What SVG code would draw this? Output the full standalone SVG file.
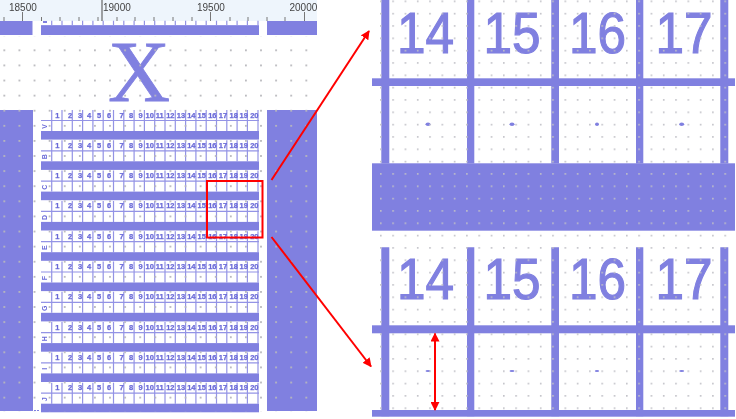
<svg xmlns="http://www.w3.org/2000/svg" width="736" height="419" viewBox="0 0 736 419">
<style>
.fill{fill:#8080e0}
.tick{stroke:#777;stroke-width:1}
.rl{font:10px "Liberation Sans",Arial,sans-serif;fill:#444}
.n{font:bold 7.5px "Liberation Sans",Arial,sans-serif;fill:#6a6ad8;stroke:#6a6ad8;stroke-width:.25;text-anchor:middle}
.gl{stroke:#8080e0;stroke-width:1.2;opacity:.85;fill:none}
.big{font:57px "Liberation Sans",Arial,sans-serif;fill:#8080e0;stroke:#8080e0;stroke-width:1.2}
.lab{font:bold 7px "Liberation Sans",Arial,sans-serif;fill:#6a6ad8;text-anchor:middle}
.red{stroke:#f00;stroke-width:2;fill:none}
</style>
<defs>
<filter id="soft" x="0" y="0" width="100%" height="100%" filterUnits="objectBoundingBox"><feGaussianBlur stdDeviation="0.3"/></filter>
<pattern id="dotsL" patternUnits="userSpaceOnUse" x="3.4" y="4.1" width="15.1" height="15.1"><rect x="0" y="0" width="1.8" height="1.8" fill="#b8b8bc"/></pattern>
<pattern id="dotsR" patternUnits="userSpaceOnUse" x="380" y="0.5" width="12.3" height="12.33"><rect x="0" y="0" width="1.6" height="1.6" fill="#c0c0c6"/></pattern>
<marker id="ah" viewBox="0 0 10 10" refX="9" refY="5" markerWidth="4.500" markerHeight="4.500" orient="auto-start-reverse" markerUnits="strokeWidth"><path d="M0 0L10 5L0 10Z" fill="#f00"/></marker>
<g id="row">
<rect class="fill" x="41" y="131" width="218" height="8.600"/>
<path class="gl" d="M41 120.500H259M51.700 110V131M62 110V131M72.300 110V131M82.600 110V131M92.900 110V131M103.200 110V131M113.500 110V131M123.800 110V131M134.100 110V131M144.400 110V131M154.700 110V131M165 110V131M175.300 110V131M185.600 110V131M195.900 110V131M206.200 110V131M216.500 110V131M226.800 110V131M237.100 110V131M247.400 110V131M258 110V131"/>
<text class="n" y="117.500"><tspan x="57.300">1</tspan><tspan x="70">2</tspan><tspan x="80">3</tspan><tspan x="89">4</tspan><tspan x="99">5</tspan><tspan x="109">6</tspan><tspan x="121.700">7</tspan><tspan x="131">8</tspan><tspan x="140.700">9</tspan><tspan x="149.700">10</tspan><tspan x="159.700">11</tspan><tspan x="170.300">12</tspan><tspan x="181">13</tspan><tspan x="191.300">14</tspan><tspan x="201.700">15</tspan><tspan x="212.300">16</tspan><tspan x="223">17</tspan><tspan x="233.700">18</tspan><tspan x="243.700">19</tspan><tspan x="254.300">20</tspan></text>
</g>
</defs>

<g id="left-panel" filter="url(#soft)">
<rect x="0" y="0" width="317" height="21" fill="#eef5fc"/>
<path class="tick" d="M4 17V21M22.500 12V21M41.500 17V21M60 17V21M79 17V21M98 17V21M117 17V21M135 17V21M154 17V21M173 17V21M192 17V21M210.500 12V21M230 17V21M248 17V21M267 17V21M285 17V21M304.500 12V21"/>
<path d="M102 0V21" stroke="#666" stroke-width="1.200"/>
<text class="rl" x="9" y="10.500">18500</text>
<text class="rl" x="103" y="10.500">19000</text>
<text class="rl" x="197" y="10.500">19500</text>
<text class="rl" x="289.500" y="10.500">20000</text>
<rect class="fill" x="0" y="21" width="32.500" height="14"/>
<rect class="fill" x="267" y="21" width="50" height="14"/>
<rect class="fill" x="41" y="26" width="218" height="9"/>
<path class="gl" d="M41 25.700H259M51.700 20.700V26M62 20.700V26M72.300 20.700V26M82.600 20.700V26M92.900 20.700V26M103.200 20.700V26M113.500 20.700V26M123.800 20.700V26M134.100 20.700V26M144.400 20.700V26M154.700 20.700V26M165 20.700V26M175.300 20.700V26M185.600 20.700V26M195.900 20.700V26M206.200 20.700V26M216.500 20.700V26M226.800 20.700V26M237.100 20.700V26M247.400 20.700V26M258 20.700V26"/>
<rect class="fill" x="43" y="21" width="4" height="2"/>
<text x="139" y="101" font-family="Liberation Serif,Times New Roman,serif" font-size="86" fill="#8080e0" stroke="#8080e0" stroke-width="0.8" text-anchor="middle">X</text>
<rect class="fill" x="0" y="110" width="33" height="301"/>
<rect class="fill" x="267" y="110" width="50" height="301"/>
<path d="M34 410.500H40" stroke="#8080e0" stroke-width="1" stroke-dasharray="2 1"/>
<g id="row-V"><use href="#row"/><text class="lab" transform="translate(46.500 126.500) rotate(-90)">V</text></g>
<g id="row-B"><use href="#row" y="30.300"/><text class="lab" transform="translate(46.500 156.800) rotate(-90)">B</text></g>
<g id="row-C"><use href="#row" y="60.600"/><text class="lab" transform="translate(46.500 187.100) rotate(-90)">C</text></g>
<g id="row-D"><use href="#row" y="90.900"/><text class="lab" transform="translate(46.500 217.400) rotate(-90)">D</text></g>
<g id="row-E"><use href="#row" y="121.200"/><text class="lab" transform="translate(46.500 247.700) rotate(-90)">E</text></g>
<g id="row-F"><use href="#row" y="151.500"/><text class="lab" transform="translate(46.500 278) rotate(-90)">F</text></g>
<g id="row-G"><use href="#row" y="181.800"/><text class="lab" transform="translate(46.500 308.300) rotate(-90)">G</text></g>
<g id="row-H"><use href="#row" y="212.100"/><text class="lab" transform="translate(46.500 338.600) rotate(-90)">H</text></g>
<g id="row-I"><use href="#row" y="242.400"/><text class="lab" transform="translate(46.500 368.900) rotate(-90)">I</text></g>
<g id="row-J"><use href="#row" y="272.700"/><text class="lab" transform="translate(46.500 399.200) rotate(-90)">J</text></g>
<rect x="0" y="36" width="317" height="376" fill="url(#dotsL)"/>
</g>

<g id="zoom-top">
<path class="fill" d="M381.300 0h8v163.500h-8zM467 0h7.300v163.500h-7.300zM551.300 0h7.700v163.500h-7.700zM636 0h7.300v163.500h-7.300zM720.300 0h8v163.500h-8z"/>
<rect class="fill" x="372" y="78.300" width="363" height="7.700"/>
<rect class="fill" x="372" y="163.300" width="363" height="67.400"/>
<text class="big" transform="translate(397 52.500) scale(.9 1)">14</text>
<text class="big" transform="translate(483.400 52.500) scale(.9 1)">15</text>
<text class="big" transform="translate(569 52.500) scale(.9 1)">16</text>
<text class="big" transform="translate(655.400 52.500) scale(.9 1)">17</text>
<ellipse class="fill" cx="428" cy="124.300" rx="2.500" ry="1.700"/>
<ellipse class="fill" cx="512" cy="124.300" rx="2.500" ry="1.700"/>
<ellipse class="fill" cx="597" cy="124.300" rx="2" ry="1.700"/>
<ellipse class="fill" cx="681.700" cy="124.300" rx="2.500" ry="1.700"/>
</g>

<g id="zoom-bottom">
<path class="fill" d="M381.300 247.300h8v169h-8zM467 247.300h7.300v169h-7.300zM551.300 247.300h7.700v169h-7.700zM636 247.300h7.300v169h-7.300zM720.300 247.300h8v169h-8z"/>
<rect class="fill" x="372" y="325.300" width="363" height="8"/>
<rect class="fill" x="372" y="410" width="363" height="6.700"/>
<text class="big" transform="translate(397 299.300) scale(.9 1)">14</text>
<text class="big" transform="translate(483.400 299.300) scale(.9 1)">15</text>
<text class="big" transform="translate(569 299.300) scale(.9 1)">16</text>
<text class="big" transform="translate(655.400 299.300) scale(.9 1)">17</text>
<ellipse class="fill" cx="428" cy="371" rx="2.500" ry="1.100"/>
<ellipse class="fill" cx="512" cy="371" rx="2.500" ry="1.100"/>
<ellipse class="fill" cx="597" cy="371" rx="2.200" ry="1.100"/>
<ellipse class="fill" cx="681.700" cy="371" rx="2.500" ry="1.100"/>
</g>
<rect x="372" y="0" width="363" height="417" fill="url(#dotsR)"/>

<g id="connectors">
<rect class="red" x="207" y="181" width="55.500" height="56.500"/>
<path class="red" d="M271.500 180L369 31" marker-end="url(#ah)"/>
<path class="red" d="M271.500 237L371 366.500" marker-end="url(#ah)"/>
<path class="red" d="M435 333.500V410" marker-start="url(#ah)" marker-end="url(#ah)"/>
</g>
</svg>
